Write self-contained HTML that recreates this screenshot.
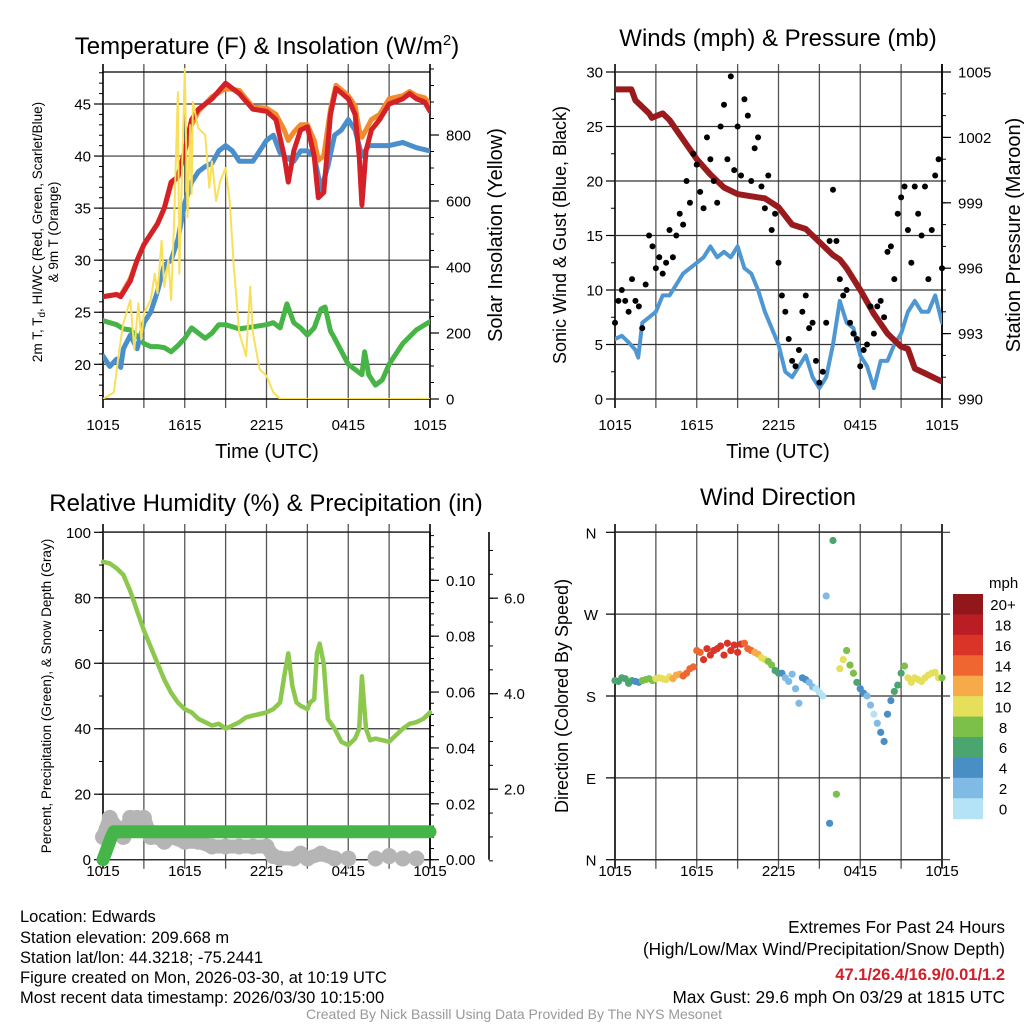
<!DOCTYPE html>
<html><head><meta charset="utf-8"><style>
html,body{margin:0;padding:0;background:#fff;}
svg{display:block;font-family:"Liberation Sans",sans-serif;}
.n{font-family:"Liberation Sans Narrow","Liberation Sans",sans-serif;}
</style></head><body>
<svg id="s" width="1024" height="1024" viewBox="0 0 1024 1024" xmlns="http://www.w3.org/2000/svg">
<rect width="1024" height="1024" fill="#fff"/>
<g id="layer"></g>
<text x="267" y="54" font-size="24" text-anchor="middle">Temperature (F) &amp; Insolation (W/m<tspan dy="-9" font-size="15">2</tspan><tspan dy="9">)</tspan></text>
<text x="778" y="46" font-size="24" text-anchor="middle">Winds (mph) &amp; Pressure (mb)</text>
<text x="266" y="511" font-size="24" text-anchor="middle">Relative Humidity (%) &amp; Precipitation (in)</text>
<text x="778" y="505" font-size="24" text-anchor="middle">Wind Direction</text>

<text transform="translate(42,232) rotate(-90)" font-size="13.5" text-anchor="middle">2m T, T<tspan font-size="10" dy="3">d</tspan><tspan dy="-3">, HI/WC (Red, Green, Scarlet/Blue)</tspan></text>
<text transform="translate(58,232) rotate(-90)" font-size="13.5" text-anchor="middle">&amp; 9m T (Orange)</text>
<text transform="translate(502,235) rotate(-90)" font-size="20" text-anchor="middle">Solar Insolation (Yellow)</text>
<text x="267" y="458" font-size="20" text-anchor="middle">Time (UTC)</text>
<text transform="translate(566,235) rotate(-90)" font-size="18" text-anchor="middle">Sonic Wind &amp; Gust (Blue, Black)</text>
<text transform="translate(1020,235) rotate(-90)" font-size="20" text-anchor="middle">Station Pressure (Maroon)</text>
<text x="778" y="458" font-size="20" text-anchor="middle">Time (UTC)</text>
<text transform="translate(51,696) rotate(-90)" font-size="13.5" text-anchor="middle">Percent, Precipitation (Green), &amp; Snow Depth (Gray)</text>
<text transform="translate(568,696) rotate(-90)" font-size="18" text-anchor="middle">Direction (Colored By Speed)</text>

<g class="n" font-size="16.5">
<text x="20" y="922">Location: Edwards</text>
<text x="20" y="943">Station elevation: 209.668 m</text>
<text x="20" y="963">Station lat/lon: 44.3218; -75.2441</text>
<text x="20" y="983">Figure created on Mon, 2026-03-30, at 10:19 UTC</text>
<text x="20" y="1003">Most recent data timestamp: 2026/03/30 10:15:00</text>
</g>
<g class="n" font-size="17.2" text-anchor="end">
<text x="1005" y="933">Extremes For Past 24 Hours</text>
<text x="1005" y="955">(High/Low/Max Wind/Precipitation/Snow Depth)</text>
<text x="1005" y="980" fill="#d0202a" font-weight="bold" font-size="16.5">47.1/26.4/16.9/0.01/1.2</text>
<text x="1005" y="1003">Max Gust: 29.6 mph On 03/29 at 1815 UTC</text>
</g>
<text x="514" y="1019" class="n" font-size="14" fill="#999" text-anchor="middle">Created By Nick Bassill Using Data Provided By The NYS Mesonet</text>
</svg>
<script>
// ---- data (hours since 10:15 UTC) ----
var timeLabels=["1015","1615","2215","0415","1015"];
var tempTicks=[20,25,30,35,40,45];
var solarTicks=[0,200,400,600,800];
var redHours=[0,1,1.3,2,2.5,3,4,4.5,5,5.5,6,6.5,7,7.5,8,9,10,11,12,12.7,13.3,13.6,14,14.5,15,15.5,15.8,16.2,16.7,17.1,18,18.5,18.8,19,19.3,19.7,20.3,21,22,22.5,23,23.6,24];
var tempRed=[26.5,26.7,26.5,28,30,31.5,33.5,35,37.5,38,40.5,43.5,44.5,45,45.5,47,46,44.5,44.3,43.5,40,37.5,40.5,42.5,42.8,40,36,36.5,44,46.5,45.5,44,40,35.3,40.5,42.5,43.5,45,45.5,46,45.5,45.2,44.3];
var temp9m=[26.5,26.7,26.6,28.2,30,31.5,33.5,35,37.3,38,40.5,43,44.3,45,45.7,46.5,46.3,44.7,44.6,44,42.5,41.5,42.3,43,43,41.5,39.6,40,44.5,46.8,45.8,44.8,42.5,41.8,42.5,43.5,44,45.5,45.8,46.2,45.8,45.6,45];
var blueHours=[0,0.5,1,1.3,1.5,2,2.5,3,3.5,4,4.5,5,5.5,6,6.5,7,7.5,8,8.5,9,9.5,10,11,11.5,12,12.5,13,13.5,14,14.5,15,15.5,16,16.5,17,17.5,18,18.5,19,19.5,20,21,22,23,24];
var tempBlue=[20.8,19.8,20.5,19.7,21.5,22.8,21.5,24,25,27,29.5,30,32,35.5,37.5,38.5,39,39.3,40.5,41,40.5,39.5,39.5,40.5,41.5,42,40.3,39.8,39.5,40.5,40.5,40,36.8,39,42,42.5,43.5,42.5,40,41,41,41,41.3,40.8,40.5];
var greenHours=[0,1,1.5,2,2.5,3,3.5,4,4.5,5,5.5,6,6.5,7,7.5,8,8.5,9,10,11,12,12.5,13,13.5,14,14.5,15,15.5,16,16.3,16.7,17,18,18.5,19,19.2,19.5,20,20.5,21,22,23,24];
var tempGreen=[24.2,23.8,23.4,23.3,22.7,22,21.7,21.7,21.6,21.2,21.8,22.5,23.5,23,22.5,23,23.8,23.8,23.4,23.6,23.8,24,23.5,25.8,24,23.5,22.8,23.5,25.3,25.5,23.2,22.5,20,19.5,19,21.2,19,18,18.5,20,22,23.3,24.1];
var solarHours=[0,0.8,1.2,1.5,2,2.3,2.6,2.8,3,3.5,3.8,4,4.3,4.5,4.8,5,5.2,5.5,5.6,5.8,6,6.2,6.4,6.5,6.6,7,7.5,7.8,8,8.3,8.6,9,9.3,9.6,10,10.5,10.8,11,11.5,12,12.5,13,24];
var solar=[0,20,150,230,300,150,290,180,260,300,380,320,480,340,420,300,520,930,380,690,1000,550,830,620,900,820,800,640,720,600,660,700,600,400,200,130,340,200,90,70,20,0,0];

var windTicks=[0,5,10,15,20,25,30];
var presTicks=[990,993,996,999,1002,1005];
var windHours=[0,0.5,1,1.5,1.7,2,2.5,3,3.5,4,4.5,5,5.5,6,6.5,7,7.5,8,8.5,9,9.5,10,10.5,11,11.5,12,12.5,13,13.5,14,14.5,15,15.5,16,16.5,17,17.5,18,18.5,19,19.5,20,20.5,21,21.5,22,22.5,23,23.5,24];
var windSpeed=[5.5,5.8,5.2,4.5,3.8,7,7.5,8,9.5,9.5,10.5,11.5,12,12.5,13,14,13,13.5,13,14,12,11.5,10,8,6.5,5,2.5,2,3,4,2,1,2,5,9,7,6.5,4,3,1,3.5,3.5,5,6,8,9,8,8,9.5,7];
var gusts=[7,9,10,9,8,11,9,8.5,6.5,10.5,15,14,12,13,11.5,12.5,15.5,13,15,17,16,20,18,22.5,21.5,19,17.5,24,22,20,18,25,27,22,29.6,21,25,20.5,27.5,26,20,23,24,19.5,17.5,20.5,15.5,17,12.5,9.5,8,5.5,3.5,3,4.5,8,9.5,6.5,7,3.5,1.5,2.5,7,14.5,19.2,14.5,11,9.5,10,7,6,5.5,3,4.5,5,8.5,6,8.5,9,7.5,13.5,14,11,17,18.5,19.5,15.5,12.5,19.5,17,15,19.5,11,15.5,20.5,22,12];
var presHours=[0,1.2,1.5,2.5,2.7,3.5,4,5,6,7,8,9,10,11,12,13,14,15,16,16.5,17,18,19,20,21,21.5,22,23,24];
var pressure=[1004.2,1004.2,1003.7,1003.1,1002.9,1003.1,1002.8,1001.9,1001.0,1000.3,999.7,999.4,999.3,999.2,998.8,998.0,997.8,997.2,996.6,996.4,996.0,995.0,993.9,993.0,992.4,992.3,991.4,991.1,990.8];

var rhTicks=[0,20,40,60,80,100];
var precipTicks=["0.00","0.02","0.04","0.06","0.08","0.10"];
var snowTicks=["2.0","4.0","6.0"];
var rhHours=[0,0.5,1,1.5,2,2.5,3,3.5,4,4.5,5,5.5,6,6.5,7,7.5,8,8.5,9,9.5,10,10.5,11,11.5,12,12.5,13,13.3,13.6,13.9,14.2,14.5,15,15.2,15.5,15.7,15.9,16.2,16.5,17,17.5,18,18.5,18.8,19,19.3,19.6,20,20.5,21,21.5,22,22.5,23,23.5,24];
var rh=[91,90.5,89,87,82,76,70,65,60,55,51,48,46,45,43,42,41,41.5,40,41,42,43.5,44,44.5,45,46,48,56,63,53,48,47,46,48,49,63,66,60,43,40,36,35,37,40,56,40,36.5,37,36.5,36,38,40,41.5,42,43,45];
var precipHours=[0,0.3,0.6,0.8,24];
var precip=[0,0.004,0.008,0.01,0.01];
var snowHours=[0,0.5,1,1.5,2,2.5,3,3.5,4,4.5,5,6,7,8,9,10,11,12,12.5,13,14,14.5,15,16,17,18,20,21,22,23];
var snowDepth=[1.0,1.4,1.2,1.0,1.4,1.4,1.4,1.0,1.0,0.9,1.0,0.9,0.9,0.8,0.8,0.8,0.8,0.8,0.6,0.55,0.55,0.65,0.55,0.65,0.55,0.55,0.55,0.6,0.55,0.55];

var dirLabels=["N","E","S","W","N"];
var directions=[197,196,200,199,194,197,196,195,197,198,199,197,199,200,199,198,201,199,203,204,202,205,210,212,230,228,220,232,225,230,232,235,225,238,230,236,228,237,238,232,230,228,226,222,220,218,214,208,205,205,200,196,204,188,172,200,198,195,190,188,184,180,290,40,351,72,210,220,230,214,205,195,188,183,180,170,160,150,140,130,160,175,185,192,205,213,200,195,200,198,196,200,203,205,206,200,200];
var speedBinLabels=["0","2","4","6","8","10","12","14","16","18","20+"];
var speedColors=["#b4e3f6","#80bbe5","#4a8ec6","#4aa56e","#7cc04a","#e5df5b","#f6aa4a","#ef6631","#da3429","#bb1d25","#92171b"];

// ---- helpers ----
var NS="http://www.w3.org/2000/svg";
var layer=document.getElementById('layer');
function mk(tag,attrs,parent){var e=document.createElementNS(NS,tag);for(var k in attrs)e.setAttribute(k,attrs[k]);(parent||layer).appendChild(e);return e;}
function lin(d0,d1,r0,r1){return function(v){return r0+(v-d0)*(r1-r0)/(d1-d0);};}
function interp(hs,vs,h){for(var i=1;i<hs.length;i++){if(h<=hs[i]){var t=(h-hs[i-1])/(hs[i]-hs[i-1]);return vs[i-1]+t*(vs[i]-vs[i-1]);}}return vs[vs.length-1];}
function pathFrom(hs,vs,xf,yf){var d="";for(var i=0;i<hs.length;i++){if(vs[i]==null)continue;d+=(d?"L":"M")+xf(hs[i]).toFixed(1)+","+yf(vs[i]).toFixed(1);}return d;}

function frame(L,R,T,B,name,labelY){
  var g=mk('g',{});
  
  
  var step=(R-L)/8;
  for(var i=0;i<=8;i++){
    var x=L+i*step;
    mk('line',{x1:x,x2:x,y1:T-8,y2:B+9,stroke:(i==0||i==8)?'#000':'#555','stroke-width':(i==0||i==8)?1.6:1.3},g);
  }
  mk('line',{x1:L,x2:R,y1:T,y2:T,stroke:'#000','stroke-width':1.3},g);
  mk('line',{x1:L,x2:R,y1:B,y2:B,stroke:'#000','stroke-width':1.3},g);
  for(var j=0;j<timeLabels.length;j++){
    var t=mk('text',{x:L+j*step*2,y:labelY,'font-size':15,'text-anchor':'middle'});
    t.textContent=timeLabels[j];
    
    
  }
}
function hgrid(L,R,ys){for(var i=0;i<ys.length;i++){mk('line',{x1:L,x2:R,y1:ys[i],y2:ys[i],stroke:'#333','stroke-width':1.2});}}
function yLabels(x,vals,yf,anchor,name){for(var i=0;i<vals.length;i++){var t=mk('text',{x:x,y:yf(parseFloat(vals[i]))+5.5,'font-size':15,'text-anchor':anchor});t.textContent=vals[i];}}
function minorTicks(x,y0,y1,n,dir,len){for(var i=0;i<=n;i++){var y=y0+(y1-y0)*i/n;mk('line',{x1:x,x2:x+dir*len,y1:y,y2:y,stroke:'#000','stroke-width':1});}}
function majorTicks(x,ys,dir){ys.forEach(function(y){mk('line',{x1:x,x2:x+dir*9,y1:y,y2:y,stroke:'#000','stroke-width':1.2});});}

// ===== Panel 1: temperature =====
(function(){
  var L=103,R=430,T=72,B=399;
  var X=lin(0,24,L,R), Y=lin(20,45,364.3,104.0), S=lin(0,800,399,135);
  frame(L,R,T,B,'temperature','430');
  hgrid(L,R,tempTicks.map(Y));
  mk('line',{x1:L,x2:R,y1:S(0),y2:S(0),stroke:'#000','stroke-width':1.3});
  majorTicks(L,tempTicks.map(Y),-1);
  minorTicks(L,Y(17),Y(48),31,-1,4);
  majorTicks(R,solarTicks.map(S),1);
  minorTicks(R,S(0),S(1000),20,1,4);
  yLabels(L-12,tempTicks,Y,'end','temperature-tick-label');
  yLabels(R+16,solarTicks,S,'start','insolation-tick-label');
  var cp=mk('clipPath',{id:'c1'});mk('rect',{x:L,y:T-4,width:R-L,height:B-T+4},cp);
  var g=mk('g',{'clip-path':'url(#c1)','stroke-linejoin':'round','stroke-linecap':'round',fill:'none'});
  var p;
  p=mk('path',{d:pathFrom(greenHours,tempGreen,X,Y),stroke:'#46b446','stroke-width':5},g);
  
  p=mk('path',{d:pathFrom(blueHours,tempBlue,X,Y),stroke:'#4a8fcb','stroke-width':5},g);
  
  p=mk('path',{d:pathFrom(redHours,temp9m,X,Y),stroke:'#f28a2e','stroke-width':5},g);
  
  p=mk('path',{d:pathFrom(redHours,tempRed,X,Y),stroke:'#d42027','stroke-width':5},g);
  
  p=mk('path',{d:pathFrom(solarHours,solar,X,S),stroke:'#f8e05a','stroke-width':2},g);
  
})();

// ===== Panel 2: winds =====
(function(){
  var L=615,R=942,T=72,B=399;
  var X=lin(0,24,L,R), Y=lin(0,30,399,72), P=lin(990,1005,399,72);
  frame(L,R,T,B,'winds','430');
  hgrid(L,R,windTicks.map(Y));
  majorTicks(L,windTicks.map(Y),-1);
  minorTicks(L,Y(0),Y(30),12,-1,4);
  majorTicks(R,presTicks.map(P),1);
  minorTicks(R,P(990),P(1005),15,1,4);
  mk('line',{x1:R,x2:R,y1:T-8,y2:B,stroke:'#000','stroke-width':1.6});
  yLabels(L-12,windTicks,Y,'end','wind-tick-label');
  yLabels(R+16,presTicks,P,'start','pressure-tick-label');
  var cp=mk('clipPath',{id:'c2'});mk('rect',{x:L,y:T-4,width:R-L,height:B-T+4},cp);
  var g=mk('g',{'clip-path':'url(#c2)','stroke-linejoin':'round','stroke-linecap':'round',fill:'none'});
  var p=mk('path',{d:pathFrom(windHours,windSpeed,X,Y),stroke:'#4f97d2','stroke-width':4},g);
  
  p=mk('path',{d:pathFrom(presHours,pressure,X,P),stroke:'#9a1b1d','stroke-width':6},g);
  
  for(var i=0;i<gusts.length;i++){
    var c=mk('circle',{cx:X(i*0.25),cy:Y(gusts[i]),r:3,fill:'#000'});
    
    
  }
})();

// ===== Panel 3: humidity =====
(function(){
  var L=103,R=430,T=532,B=859.7;
  var X=lin(0,24,L,R), Y=lin(0,100,859.7,532.3), PR=lin(0,0.1,859.7,580.3), SD=lin(0,2,884.7,789.2);
  frame(L,R,T,B,'humidity','876');
  hgrid(L,R,rhTicks.map(Y));
  majorTicks(L,rhTicks.map(Y),-1);
  minorTicks(L,Y(0),Y(100),10,-1,4);
  mk('line',{x1:R,x2:R,y1:T,y2:B,stroke:'#000','stroke-width':1.6});
  majorTicks(R,precipTicks.map(function(v){return PR(+v);}),1);
  minorTicks(R,PR(0),PR(0.116),29,1,4);
  yLabels(L-12,rhTicks,Y,'end','humidity-tick-label');
  yLabels(R+16,precipTicks,PR,'start','precip-tick-label');
  var sx=489;
  mk('line',{x1:sx,x2:sx,y1:T,y2:B,stroke:'#000','stroke-width':1.6});
  majorTicks(sx,snowTicks.map(function(v){return SD(+v);}),1);
  minorTicks(sx,SD(0.5),SD(7),13,1,4);
  yLabels(sx+15,snowTicks,SD,'start','snow-depth-tick-label');
  var cp=mk('clipPath',{id:'c3'});mk('rect',{x:L-12,y:T-4,width:R-L+24,height:B-T+16},cp);
  var g=mk('g',{'clip-path':'url(#c3)','stroke-linejoin':'round','stroke-linecap':'round',fill:'none'});
  for(var i=0;i<snowHours.length;i++){
    var c=mk('circle',{cx:X(snowHours[i]),cy:SD(snowDepth[i]),r:8,fill:'#b5b5b5'},g);
    
    
  }
  var p=mk('path',{d:pathFrom(snowHours.slice(0,25),snowDepth.slice(0,25),X,SD),stroke:'#b5b5b5','stroke-width':14},g);
  
  p=mk('path',{d:pathFrom(rhHours,rh,X,Y),stroke:'#8cc84e','stroke-width':4.5},g);
  
  p=mk('path',{d:pathFrom(precipHours,precip,X,PR),stroke:'#45b549','stroke-width':13},g);
  
})();

// ===== Panel 4: wind direction =====
(function(){
  var L=615,R=942,T=532,B=859.7;
  var X=lin(0,24,L,R), Y=lin(0,360,859.7,532.3);
  frame(L,R,T,B,'direction','876');
  var dv=[0,90,180,270,360];
  hgrid(L,R+8,dv.map(Y));
  majorTicks(L,dv.map(Y),-1);
  for(var i=0;i<dirLabels.length;i++){var t=mk('text',{x:591,y:Y(dv[i])+6,'font-size':15,'text-anchor':'middle'});t.textContent=dirLabels[i];}
  for(var k=0;k<directions.length;k++){
    var h=k*0.25, sp=interp(windHours,windSpeed,h)*1.25;
    var bin=Math.min(10,Math.max(0,Math.floor(sp/2)));
    var c=mk('circle',{cx:X(h),cy:Y(directions[k]),r:3.6,fill:speedColors[bin]});
    
    
  }
  // colorbar
  var cbTop=594, cbH=(818.7-594)/11;
  var u=mk('text',{x:989,y:588,'font-size':15});
  u.textContent='mph';
  
  
  for(var b=0;b<11;b++){
    var idx=10-b;
    var r=mk('rect',{x:953,y:cbTop+b*cbH,width:30,height:cbH+0.5,fill:speedColors[idx]});
    
    
    var tl=mk('text',{x:1003,y:cbTop+b*cbH+cbH/2+6,'font-size':15,'text-anchor':'middle'});
    tl.textContent=speedBinLabels[idx];
    
    
  }
})();
</script>
</body></html>
